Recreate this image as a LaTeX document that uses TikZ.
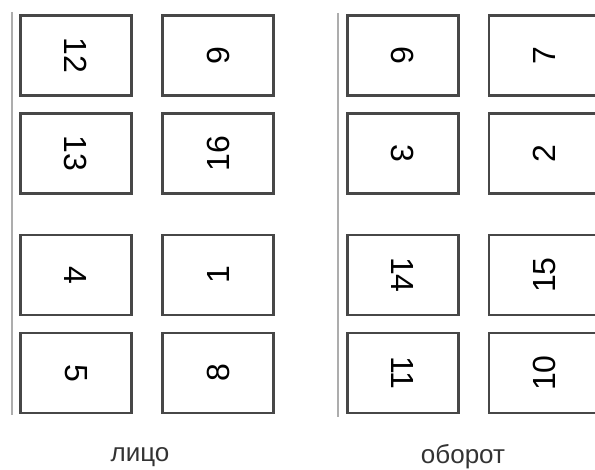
\documentclass[tikz,border=0pt]{standalone}
\usepackage{fontspec}
\setmainfont{Liberation Sans}
\begin{document}
\begin{tikzpicture}[x=1pt,y=-1pt,
  pagebox/.style={draw=black!72,line width=2.3pt,minimum width=111pt,minimum height=80pt,inner sep=0pt,font=\fontsize{32}{32}\selectfont},
  fold/.style={draw=black!32,line width=2.6pt},
  caption/.style={font=\fontsize{26}{26}\selectfont,text=black!80}]
\useasboundingbox (0,0) rectangle (595,470);
\clip (0,0) rectangle (595,470);
% front side
\coordinate (fa) at (12,12);
\coordinate (fb) at (12,415);
\draw[fold] (fa) -- (fb);
\node[pagebox] (p12) at (76,55.5) {\rotatebox{-90}{12}};
\node[pagebox] (p13) at (76,153.5) {\rotatebox{-90}{13}};
\node[pagebox] (p4)  at (76,275) {\rotatebox{-90}{4}};
\node[pagebox] (p5)  at (76,373) {\rotatebox{-90}{5}};
\node[pagebox] (p9)  at (218,55.5) {\rotatebox{90}{9}};
\node[pagebox] (p16) at (218,153.5) {\rotatebox{90}{16}};
\node[pagebox] (p1)  at (218,275) {\rotatebox{90}{1}};
\node[pagebox] (p8)  at (218,373) {\rotatebox{90}{8}};
\node[caption] (lf) at (140,457) {лицо};
% back side
\coordinate (ba) at (338,13);
\coordinate (bb) at (338,417);
\draw[fold] (ba) -- (bb);
\node[pagebox] (p6)  at (403,55.5) {\rotatebox{-90}{6}};
\node[pagebox] (p3)  at (403,153.5) {\rotatebox{-90}{3}};
\node[pagebox] (p14) at (403,275) {\rotatebox{-90}{14}};
\node[pagebox] (p11) at (403,373) {\rotatebox{-90}{11}};
\node[pagebox] (p7)  at (544.5,55.5) {\rotatebox{90}{7}};
\node[pagebox] (p2)  at (544.5,153.5) {\rotatebox{90}{2}};
\node[pagebox] (p15) at (544.5,275) {\rotatebox{90}{15}};
\node[pagebox] (p10) at (544.5,373) {\rotatebox{90}{10}};
\node[caption] (lb) at (463,457) {оборот};
\end{tikzpicture}
\end{document}
